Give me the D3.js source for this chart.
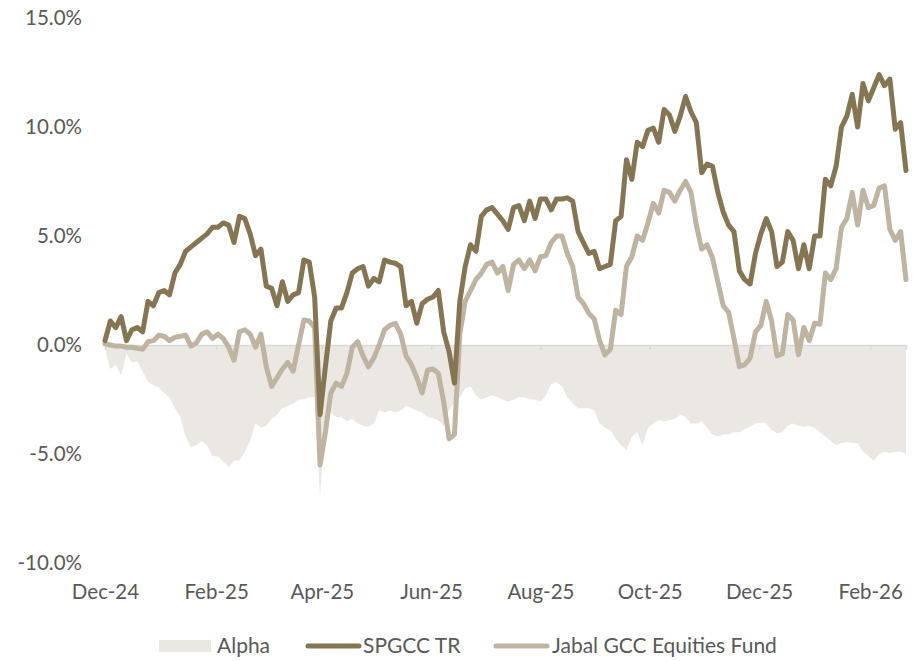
<!DOCTYPE html>
<html>
<head>
<meta charset="utf-8">
<script src="https://cdn.jsdelivr.net/npm/d3@7"></script>
<style>
  body { margin: 0; background: #fff; }
  svg text { font-family: Lato, "Open Sans", sans-serif; fill: #595959; }
</style>
</head>
<body>
<svg id="chart" width="923" height="661"></svg>
<script>
// observation dates (every 3rd day)
var dates = [
  "2024-12-01","2024-12-04","2024-12-07","2024-12-10","2024-12-13","2024-12-16","2024-12-19","2024-12-22","2024-12-25","2024-12-28","2024-12-31",
  "2025-01-03","2025-01-06","2025-01-09","2025-01-12","2025-01-15","2025-01-18","2025-01-21","2025-01-24","2025-01-27","2025-01-30",
  "2025-02-02","2025-02-05","2025-02-08","2025-02-11","2025-02-14","2025-02-17","2025-02-20","2025-02-23","2025-02-26",
  "2025-03-01","2025-03-04","2025-03-07","2025-03-10","2025-03-13","2025-03-16","2025-03-19","2025-03-22","2025-03-25","2025-03-28","2025-03-31",
  "2025-04-03","2025-04-06","2025-04-09","2025-04-12","2025-04-15","2025-04-18","2025-04-21","2025-04-24","2025-04-27","2025-04-30",
  "2025-05-03","2025-05-06","2025-05-09","2025-05-12","2025-05-15","2025-05-18","2025-05-21","2025-05-24","2025-05-27","2025-05-30",
  "2025-06-02","2025-06-05","2025-06-08","2025-06-11","2025-06-14","2025-06-17","2025-06-20","2025-06-23","2025-06-26","2025-06-29",
  "2025-07-02","2025-07-05","2025-07-08","2025-07-11","2025-07-14","2025-07-17","2025-07-20","2025-07-23","2025-07-26","2025-07-29",
  "2025-08-01","2025-08-04","2025-08-07","2025-08-10","2025-08-13","2025-08-16","2025-08-19","2025-08-22","2025-08-25","2025-08-28","2025-08-31",
  "2025-09-03","2025-09-06","2025-09-09","2025-09-12","2025-09-15","2025-09-18","2025-09-21","2025-09-24","2025-09-27","2025-09-30",
  "2025-10-03","2025-10-06","2025-10-09","2025-10-12","2025-10-15","2025-10-18","2025-10-21","2025-10-24","2025-10-27","2025-10-30",
  "2025-11-02","2025-11-05","2025-11-08","2025-11-11","2025-11-14","2025-11-17","2025-11-20","2025-11-23","2025-11-26","2025-11-29",
  "2025-12-02","2025-12-05","2025-12-08","2025-12-11","2025-12-14","2025-12-17","2025-12-20","2025-12-23","2025-12-26","2025-12-29",
  "2026-01-01","2026-01-04","2026-01-07","2026-01-10","2026-01-13","2026-01-16","2026-01-19","2026-01-22","2026-01-25","2026-01-28","2026-01-31",
  "2026-02-03","2026-02-06","2026-02-09","2026-02-12","2026-02-15","2026-02-18","2026-02-21"
];

// S&P GCC total return, % since start
var spgcc = [
  0.2, 1.1, 0.8, 1.3, 0.2, 0.7, 0.8, 0.6, 2.0, 1.8, 2.4,
  2.5, 2.3, 3.3, 3.7, 4.3, 4.5, 4.7, 4.9, 5.1, 5.4,
  5.4, 5.6, 5.5, 4.7, 5.9, 5.8, 5.1, 4.1, 4.4,
  2.7, 2.6, 1.8, 2.9, 2.0, 2.3, 2.4, 3.9, 3.8, 2.2, -3.2,
  -1.0, 1.1, 1.7, 1.7, 2.4, 3.3, 3.5, 3.6, 2.7, 3.05,
  2.9, 3.9, 3.8, 3.75, 3.6, 1.8, 2.0, 1.0, 1.9, 2.1,
  2.2, 2.5, 0.6, -0.3, -1.75, 2.0, 3.6, 4.6, 4.3, 5.9,
  6.2, 6.3, 6.0, 5.7, 5.3, 6.3, 6.4, 5.7, 6.6, 5.8,
  6.7, 6.7, 6.2, 6.7, 6.7, 6.75, 6.6, 5.2, 4.7, 4.2, 4.3,
  3.5, 3.6, 3.7, 5.7, 5.9, 8.5, 7.6, 9.3, 9.1, 9.85,
  9.95, 9.3, 10.8, 10.55, 9.8, 10.5, 11.4, 10.7, 10.2, 7.9,
  8.3, 8.2, 7.0, 6.1, 5.5, 5.2, 3.4, 3.0, 2.8, 4.2,
  5.1, 5.8, 5.2, 3.6, 3.8, 5.2, 4.8, 3.5, 4.6, 3.5,
  5.0, 5.0, 7.6, 7.3, 8.2, 10.0, 10.5, 11.5, 10.0, 12.0, 11.2,
  11.8, 12.4, 11.9, 12.2, 9.9, 10.2, 8.0
];

// Jabal GCC Equities Fund, % since start
var fund = [
  0.05, 0.0, -0.05, -0.05, -0.1, -0.1, -0.15, -0.2, 0.15, 0.2, 0.45,
  0.4, 0.2, 0.35, 0.4, 0.45, -0.05, 0.1, 0.5, 0.6, 0.3,
  0.5, 0.3, -0.1, -0.7, 0.6, 0.7, 0.5, -0.1, 0.5,
  -1.0, -1.9, -1.5, -1.1, -0.8, -1.2, 0.0, 1.15, 1.1, 0.8, -5.5,
  -4.0, -2.2, -1.75, -1.9, -1.3, -0.1, 0.15, -0.5, -1.0, -0.6,
  0.0, 0.7, 0.9, 1.0, 0.5, -0.5, -0.9, -1.5, -2.2, -1.15,
  -1.1, -1.3, -2.6, -4.3, -4.1, 0.5, 2.0, 2.5, 3.0, 3.3,
  3.7, 3.8, 3.3, 3.6, 2.5, 3.7, 3.9, 3.5, 3.9, 3.4,
  4.05, 4.1, 4.7, 5.0, 5.0, 4.2, 3.6, 2.2, 1.9, 1.45, 1.2,
  0.2, -0.45, -0.2, 1.6, 1.4, 3.6, 4.05, 5.0, 4.8, 5.6,
  6.5, 6.05, 7.1, 7.0, 6.6, 7.1, 7.5, 7.0, 5.5, 4.4,
  4.6, 4.0, 2.9, 1.8, 1.5, 0.3, -1.0, -0.9, -0.6, 0.6,
  0.9, 2.0, 1.1, -0.5, -0.4, 1.4, 1.15, -0.45, 0.8, 0.2,
  1.0, 0.95, 3.3, 3.0, 3.5, 5.4, 5.8, 7.0, 5.5, 7.1, 6.3,
  6.4, 7.2, 7.3, 5.3, 4.8, 5.2, 3.0
];

// Alpha (fund minus index), %
var alpha = [
  -0.2, -1.1, -0.9, -1.4, -0.4, -0.8, -0.75, -1.2, -1.7, -1.85, -1.95,
  -2.2, -2.4, -2.9, -3.3, -4.2, -4.7, -4.6, -4.4, -4.6, -5.1,
  -5.1, -5.35, -5.6, -5.3, -5.3, -4.9, -4.4, -3.6, -3.8,
  -3.7, -3.4, -3.2, -2.9, -2.8, -2.7, -2.5, -2.5, -2.4, -2.4, -7.0,
  -3.2, -3.1, -3.3, -3.3, -3.5, -3.4, -3.6, -3.7, -3.75, -3.6,
  -3.0, -3.1, -3.0, -3.1, -3.0, -2.8, -2.9, -3.0, -3.1, -3.3,
  -3.35, -3.45, -3.7, -3.0, -2.6, -2.4, -2.0, -1.9, -2.3, -2.5,
  -2.4, -2.3, -2.4, -2.5, -2.6, -2.5, -2.4, -2.4, -2.5, -2.5,
  -2.6, -2.3, -1.8, -1.7, -1.9, -2.4, -2.7, -2.9, -2.9, -2.9, -3.0,
  -3.6, -3.8, -3.9, -4.3, -4.6, -4.8, -4.2, -4.0, -4.6, -3.8,
  -3.6, -3.45, -3.5, -3.45, -3.4, -3.2, -3.3, -3.6, -3.6, -3.5,
  -3.8, -4.1, -4.2, -4.1, -4.1, -4.0, -4.0, -3.85, -3.75, -3.6,
  -3.55, -3.6, -3.9, -4.05, -4.0, -3.7, -3.6, -3.7, -3.75, -3.7,
  -3.8, -4.0, -4.2, -4.4, -4.6, -4.5, -4.45, -4.5, -4.5, -4.9, -5.1,
  -5.3, -5.0, -4.9, -4.95, -4.9, -4.9, -5.0
];

var xTickDates = ["2024-12-01","2025-02-01","2025-04-01","2025-06-01","2025-08-01","2025-10-01","2025-12-01","2026-02-01"];
var yTicks = [-10, -5, 0, 5, 10, 15];
var seriesNames = ["Alpha", "SPGCC TR", "Jabal GCC Equities Fund"];

var colors = { alpha: "#ebe8e3", spgcc: "#857553", fund: "#bfb3a2", axis: "#d9d9d9" };

var parseDate = d3.timeParse("%Y-%m-%d");
var data = dates.map(function(d, i) {
  return { date: parseDate(d), spgcc: spgcc[i], fund: fund[i], alpha: alpha[i] };
});
var tickDates = xTickDates.map(parseDate);

var x = d3.scaleTime()
  .domain([parseDate("2024-12-01"), parseDate("2026-02-21")])
  .range([105, 906]);

var y = d3.scaleLinear()
  .domain([-10, 15])
  .range([563, 18]);

var svg = d3.select("#chart");

// alpha area
svg.append("path")
  .datum(data)
  .attr("fill", colors.alpha)
  .attr("d", d3.area()
    .x(function(d) { return x(d.date); })
    .y0(y(0))
    .y1(function(d) { return y(d.alpha); }));

// zero line with small tick marks
var zeroAxis = d3.axisBottom(x)
  .tickValues(tickDates.concat([x.domain()[1]]))
  .tickSize(5)
  .tickSizeOuter(0)
  .tickFormat("");
var gz = svg.append("g")
  .attr("transform", "translate(0," + y(0) + ")")
  .call(zeroAxis);
gz.select(".domain").attr("stroke", colors.axis).attr("stroke-width", 1.5);
gz.selectAll(".tick line").attr("stroke", colors.axis).attr("stroke-width", 1.5);

// month labels along the bottom
var xAxis = d3.axisBottom(x)
  .tickValues(tickDates)
  .tickSize(0)
  .tickPadding(0)
  .tickFormat(d3.timeFormat("%b-%y"));
var gx = svg.append("g")
  .attr("transform", "translate(0,584)")
  .call(xAxis);
gx.select(".domain").remove();
gx.selectAll("text").attr("font-size", 20.5).attr("dy", "0.71em");

// percent labels
var yAxis = d3.axisLeft(y)
  .tickValues(yTicks)
  .tickSize(0)
  .tickPadding(0)
  .tickFormat(function(v) { return v.toFixed(1) + "%"; });
var gy = svg.append("g")
  .attr("transform", "translate(82,0)")
  .call(yAxis);
gy.select(".domain").remove();
gy.selectAll("text").attr("font-size", 20.5);

var line = function(key) {
  return d3.line()
    .x(function(d) { return x(d.date); })
    .y(function(d) { return y(d[key]); });
};

svg.append("path")
  .datum(data)
  .attr("fill", "none")
  .attr("stroke", colors.fund)
  .attr("stroke-width", 5)
  .attr("stroke-linejoin", "round")
  .attr("stroke-linecap", "round")
  .attr("d", line("fund"));

svg.append("path")
  .datum(data)
  .attr("fill", "none")
  .attr("stroke", colors.spgcc)
  .attr("stroke-width", 5)
  .attr("stroke-linejoin", "round")
  .attr("stroke-linecap", "round")
  .attr("d", line("spgcc"));

// legend
var legend = svg.append("g").attr("transform", "translate(0,646)");
var items = [
  { name: seriesNames[0], type: "box", color: colors.alpha, x: 159, tx: 217 },
  { name: seriesNames[1], type: "line", color: colors.spgcc, x: 306, tx: 363 },
  { name: seriesNames[2], type: "line", color: colors.fund, x: 494, tx: 552 }
];
items.forEach(function(it) {
  if (it.type === "box") {
    legend.append("rect")
      .attr("x", it.x).attr("y", -6)
      .attr("width", 52).attr("height", 12)
      .attr("fill", it.color);
  } else {
    legend.append("line")
      .attr("x1", it.x + 2).attr("x2", it.x + 53)
      .attr("y1", 0).attr("y2", 0)
      .attr("stroke", it.color)
      .attr("stroke-width", 5)
      .attr("stroke-linecap", "round");
  }
  legend.append("text")
    .attr("x", it.tx)
    .attr("dy", "0.35em")
    .attr("font-size", 21)
    .text(it.name);
});
</script>
</body>
</html>
